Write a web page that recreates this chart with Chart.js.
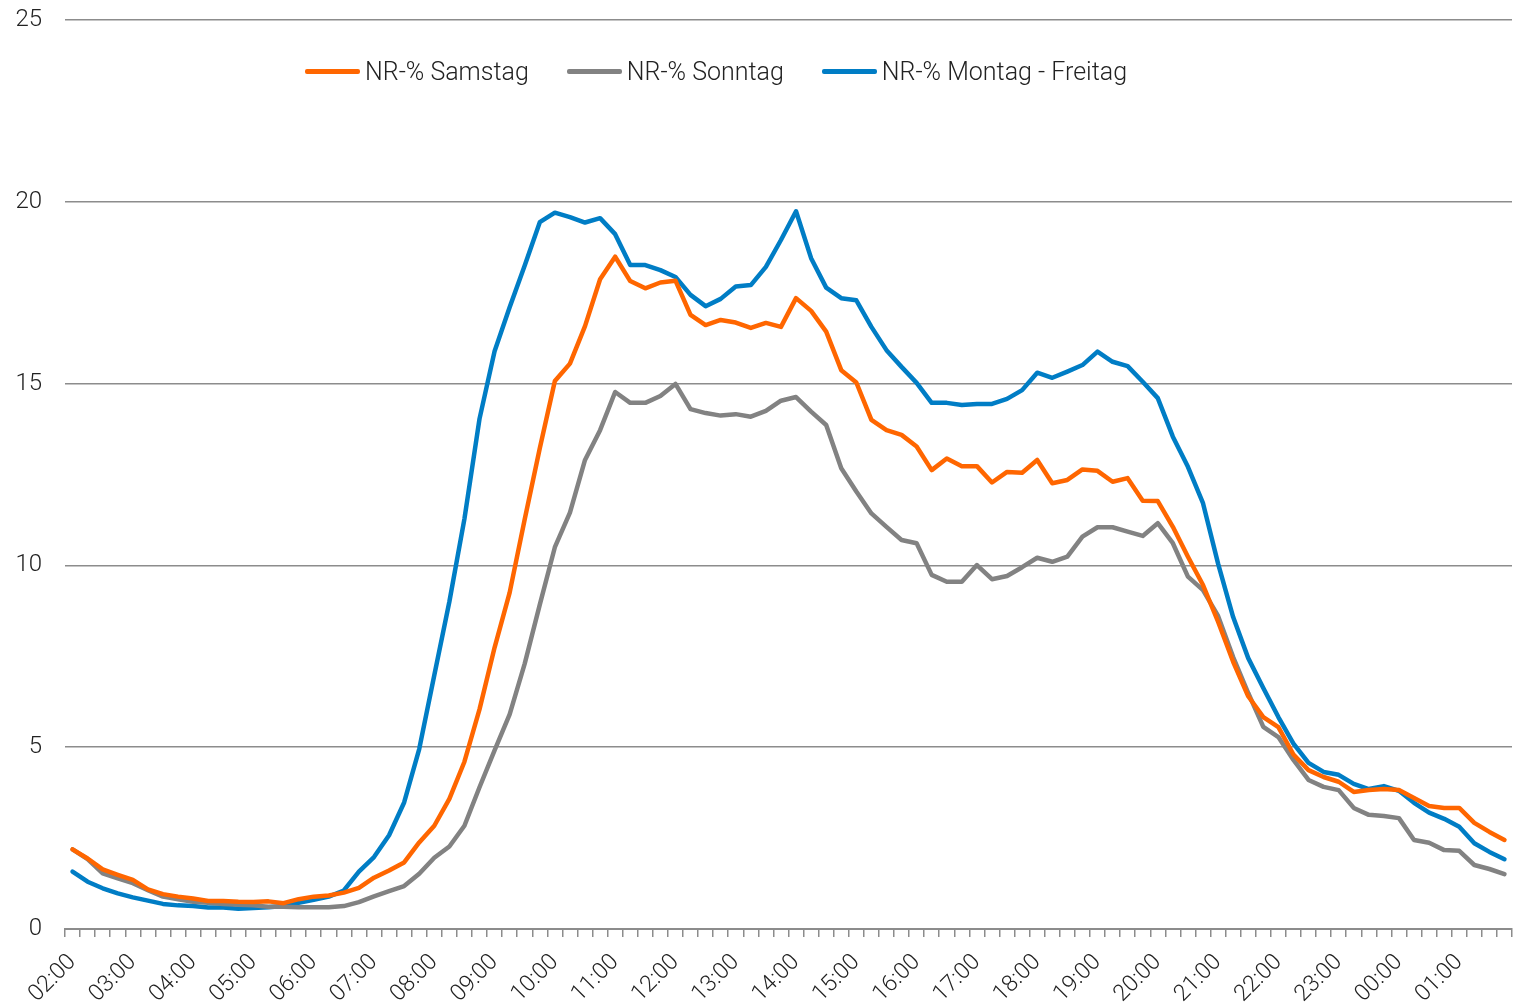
<!DOCTYPE html>
<html lang="de">
<head>
<meta charset="utf-8">
<title>NR-% Tagesverlauf</title>
<script src="https://cdn.jsdelivr.net/npm/chart.js@4.4.1/dist/chart.umd.min.js"></script>
<style>
  html, body { margin: 0; padding: 0; background: #fff; }
  #wrap { position: relative; width: 1514px; height: 1003px; }
  #legend {
    position: absolute; left: 305px; top: 57px;
    display: flex; align-items: center;
    font-family: Roboto, "Liberation Sans", sans-serif;
    font-weight: 300; font-size: 25px; color: #222;
  }
  .item { display: flex; align-items: center; margin-right: 38px; white-space: nowrap; }
  .swatch { width: 55px; height: 5px; border-radius: 2px; margin-right: 5px; }
</style>
</head>
<body>
<div id="wrap">
  <canvas id="chart"></canvas>
  <div id="legend"></div>
</div>
<script>
// 15-minute slots, 02:00 through 01:45
const timeLabels = [];
for (let h = 0; h < 24; h++) {
  const hh = String((h + 2) % 24).padStart(2, "0");
  ["00", "15", "30", "45"].forEach(m => timeLabels.push(hh + ":" + m));
}

const seriesNames = ["NR-% Samstag", "NR-% Sonntag", "NR-% Montag - Freitag"];

const samstag = [
  2.19, 1.94, 1.64, 1.49, 1.35, 1.09, 0.96, 0.89, 0.84, 0.77, 0.77, 0.75,
  0.74, 0.76, 0.71, 0.82, 0.89, 0.92, 1.00, 1.13, 1.41, 1.61, 1.83, 2.38,
  2.84, 3.58, 4.60, 6.04, 7.74, 9.25, 11.27, 13.22, 15.07, 15.55, 16.58, 17.87,
  18.49, 17.82, 17.62, 17.78, 17.83, 16.89, 16.61, 16.75, 16.68, 16.53, 16.67, 16.56,
  17.35, 17.00, 16.43, 15.37, 15.03, 14.00, 13.72, 13.59, 13.27, 12.62, 12.94, 12.73,
  12.73, 12.28, 12.57, 12.55, 12.90, 12.26, 12.35, 12.64, 12.60, 12.30, 12.40, 11.78,
  11.77, 11.06, 10.24, 9.46, 8.45, 7.35, 6.40, 5.83, 5.55, 4.80, 4.37, 4.18,
  4.05, 3.77, 3.82, 3.85, 3.82, 3.60, 3.38, 3.33, 3.33, 2.92, 2.67, 2.45
];

const sonntag = [
  2.19, 1.92, 1.53, 1.39, 1.26, 1.07, 0.89, 0.82, 0.75, 0.72, 0.69, 0.67,
  0.65, 0.61, 0.61, 0.60, 0.60, 0.60, 0.63, 0.74, 0.90, 1.04, 1.18, 1.52,
  1.96, 2.27, 2.84, 3.90, 4.91, 5.90, 7.30, 8.92, 10.50, 11.45, 12.90, 13.72,
  14.77, 14.47, 14.47, 14.66, 14.99, 14.30, 14.19, 14.12, 14.16, 14.09, 14.25, 14.53,
  14.63, 14.23, 13.86, 12.67, 12.03, 11.43, 11.06, 10.70, 10.61, 9.74, 9.55, 9.55,
  10.01, 9.62, 9.71, 9.95, 10.21, 10.10, 10.24, 10.79, 11.05, 11.05, 10.93, 10.81,
  11.16, 10.61, 9.69, 9.32, 8.61, 7.48, 6.49, 5.56, 5.28, 4.65, 4.10, 3.91,
  3.82, 3.33, 3.14, 3.11, 3.05, 2.45, 2.37, 2.17, 2.15, 1.76, 1.65, 1.51
];

const montagFreitag = [
  1.58, 1.30, 1.12, 0.98, 0.87, 0.78, 0.69, 0.65, 0.63, 0.59, 0.59, 0.56,
  0.58, 0.60, 0.63, 0.72, 0.80, 0.89, 1.06, 1.58, 1.98, 2.58, 3.48, 4.95,
  6.98, 9.00, 11.28, 14.03, 15.89, 17.10, 18.25, 19.44, 19.70, 19.58, 19.43, 19.55,
  19.11, 18.26, 18.26, 18.12, 17.93, 17.44, 17.13, 17.33, 17.67, 17.71, 18.21, 18.95,
  19.74, 18.45, 17.64, 17.35, 17.29, 16.56, 15.92, 15.46, 15.02, 14.47, 14.47, 14.41,
  14.44, 14.44, 14.58, 14.82, 15.30, 15.16, 15.33, 15.51, 15.88, 15.60, 15.48, 15.05,
  14.60, 13.54, 12.71, 11.71, 10.05, 8.58, 7.45, 6.63, 5.83, 5.10, 4.57, 4.32,
  4.24, 3.99, 3.85, 3.93, 3.80, 3.47, 3.20, 3.03, 2.81, 2.36, 2.12, 1.92
];

const yTicks = [0, 5, 10, 15, 20, 25];

const colors = ["#FF6600", "#828282", "#007DC5"];
const FONT = "Roboto, 'Liberation Sans', sans-serif";

function makeSet(label, values, color) {
  return {
    label,
    data: values,
    borderColor: color,
    backgroundColor: color,
    borderWidth: 4.5,
    borderJoinStyle: "round",
    borderCapStyle: "round",
    pointRadius: 0,
    tension: 0,
    fill: false
  };
}

const ctx = document.getElementById("chart").getContext("2d");
const chart = new Chart(ctx, {
  type: "line",
  data: {
    labels: timeLabels,
    datasets: [
      makeSet(seriesNames[0], samstag, colors[0]),
      makeSet(seriesNames[1], sonntag, colors[1]),
      makeSet(seriesNames[2], montagFreitag, colors[2])
    ]
  },
  options: {
    responsive: true,
    maintainAspectRatio: false,
    animation: false,
    layout: { padding: { top: 20, right: 2, left: 0, bottom: 0 } },
    plugins: {
      legend: { display: false },
      tooltip: { enabled: false }
    },
    scales: {
      x: {
        type: "category",
        offset: true,
        border: { display: true, color: "#8c8c8c", width: 2 },
        grid: {
          offset: true,
          drawOnChartArea: false,
          drawTicks: true,
          tickLength: 8,
          color: "#8c8c8c",
          lineWidth: 1.5
        },
        ticks: {
          autoSkip: false,
          maxRotation: 45,
          minRotation: 45,
          padding: 12,
          color: "#222",
          font: { family: FONT, size: 23, weight: 300 },
          callback: (v, i) => (i % 4 === 0 ? timeLabels[i] : "")
        },
        afterFit: s => {
          s.height = 74;
          s.paddingLeft = 0;
          s.paddingRight = 0;
        }
      },
      y: {
        min: 0,
        max: 25,
        border: { display: false },
        grid: { color: "#8c8c8c", lineWidth: 1.5, drawTicks: false },
        afterBuildTicks: s => { s.ticks = yTicks.map(v => ({ value: v })); },
        ticks: {
          padding: 23,
          color: "#222",
          font: { family: FONT, size: 24, weight: 300 }
        },
        afterFit: s => {
          s.width = 65;
          s.paddingTop = 0;
          s.paddingBottom = 0;
        }
      }
    }
  }
});

function buildLegend() {
  const box = document.getElementById("legend");
  chart.data.datasets.forEach(ds => {
    const item = document.createElement("div");
    item.className = "item";
    const sw = document.createElement("span");
    sw.className = "swatch";
    sw.style.background = ds.borderColor;
    const txt = document.createElement("span");
    txt.textContent = ds.label;
    item.appendChild(sw);
    item.appendChild(txt);
    box.appendChild(item);
  });
}

buildLegend();
</script>
</body>
</html>
